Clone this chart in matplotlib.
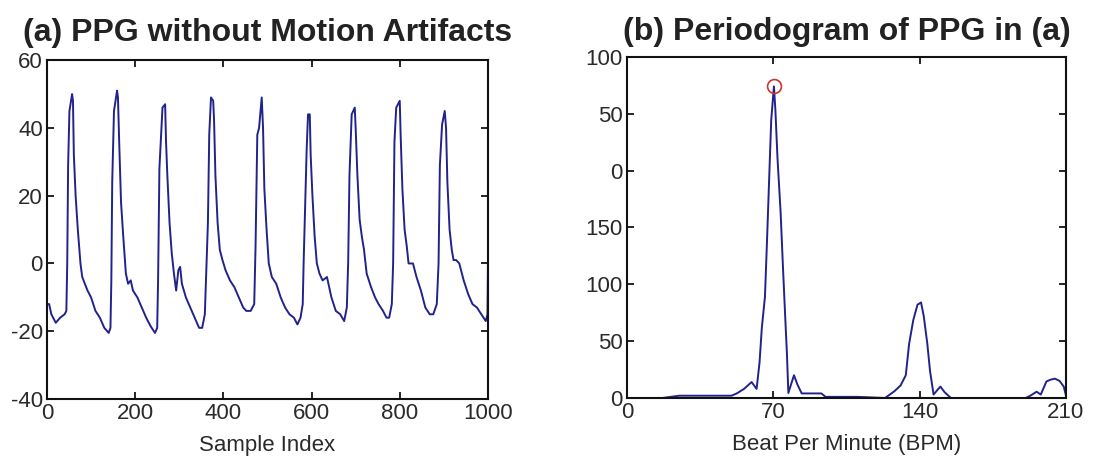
import matplotlib
matplotlib.use('Agg')
import matplotlib.pyplot as plt

plt.rcParams['font.family'] = ['Liberation Sans', 'DejaVu Sans']
plt.rcParams['axes.unicode_minus'] = False

# (a) PPG waveform, key points
sample_idx = [0, 5, 10, 20, 30, 40, 44,
              46, 48, 51, 57, 59, 61, 65, 70, 76, 80, 86, 92, 100, 110, 120, 130, 140, 144,
              146, 148, 152, 159, 161, 164, 168, 173, 179, 184, 190, 195, 205, 215, 225, 235, 245, 250,
              252, 255, 258, 262, 268, 270, 273, 278, 283, 288, 293, 298, 302, 306, 315, 325, 335, 345, 352, 358,
              362, 365, 368, 372, 377, 379, 382, 387, 392, 398, 405, 415, 425, 435, 445, 452, 462, 470,
              473, 477, 481, 487, 490, 493, 498, 503, 510, 520, 530, 540, 550, 560, 568, 575, 580,
              582, 585, 589, 592, 596, 598, 602, 607, 612, 618, 625, 635, 645, 655, 665, 674, 680,
              683, 686, 691, 698, 700, 704, 709, 714, 719, 725, 735, 744, 752, 762, 770, 776, 782,
              785, 788, 792, 800, 802, 806, 811, 816, 820, 825, 830, 838, 848, 858, 868, 876, 884,
              888, 891, 896, 902, 905, 908, 913, 918, 922, 928, 935, 945, 955, 965, 975, 985, 995, 999, 1000]
ppg = [-12, -12, -15, -17.5, -16, -15, -14,
       0, 29, 45, 50, 48, 32, 20, 10, 0, -4, -6, -8, -10, -14, -16, -19, -20.5, -19,
       -5, 24, 45, 51, 49, 35, 18, 8, -3, -6, -5, -8, -10, -13, -16, -18.5, -20.5, -19,
       -5, 28, 36, 46, 47, 36, 26, 12, 3, -3, -8, -2, -1, -6, -10, -13, -16, -19, -19, -15,
       0, 12, 38, 49, 48, 42, 26, 12, 4, 1, -2, -5, -7, -10, -13, -14, -14, -12,
       5, 38, 40, 49, 40, 22, 10, 0, -4, -6, -10, -13, -15, -16, -18, -16, -12,
       0, 15, 34, 44, 44, 32, 20, 8, 0, -3, -5, -4, -10, -14, -15, -17, -13,
       0, 26, 44, 46, 40, 26, 13, 8, 4, -3, -7, -10, -12, -14, -16, -16, -12,
       0, 36, 46, 48, 38, 22, 10, 5, 0, 0, 0, -4, -8, -13, -15, -15, -12,
       0, 29, 41, 45, 40, 24, 10, 4, 1, 1, 0, -5, -9, -12, -13, -15, -17, -15, 0]

# (b) periodogram, key points
bpm = [0, 17, 25, 35, 45, 50, 52.5, 56, 59.6, 62, 63.4, 64.5, 66, 67, 68, 69, 70.3,
       71, 72, 73.5, 74.5, 75.5, 76.5, 77.2, 78.5, 79.9, 81.5, 83.6, 93, 95,
       110, 123.5, 125, 128, 130.9, 133.4, 135, 137, 139, 140.7, 142, 143.7, 145, 146.7,
       148.5, 150, 152, 155, 175, 190.8, 193, 196, 198, 200.7, 202.5, 204.8, 207, 209, 210]
power = [0, 0, 2, 2, 2, 2, 4, 8, 14, 8, 31, 61.6, 89, 139, 192, 244.5, 274,
         253, 211, 163, 120, 79, 39.6, 4.4, 12, 20, 12, 4, 4, 1,
         1, 0, 2, 6, 11, 20, 47.7, 68.6, 82, 84, 72, 47.7, 23.8, 3,
         7, 10, 5, 0, 0, 0, 2, 5.5, 3, 14.5, 16, 17, 15, 10, 2.6]
peak_bpm = 70.3
peak_power = 274
ytick_vals = [0, 50, 100, 150, 200, 250, 300]
ytick_text = ['0', '50', '100', '150', '0', '50', '100']

line_col = '#22228c'
txt_col = '#2a2a2a'

fig = plt.figure(figsize=(10.97, 4.61), dpi=100)
ax1 = fig.add_axes([0.0428, 0.1345, 0.402, 0.735])
ax2 = fig.add_axes([0.5716, 0.1367, 0.400, 0.740])

ax1.plot(sample_idx, ppg, color=line_col, lw=1.4)
ax1.set_xlim(0, 1000)
ax1.set_ylim(-40, 60)
ax1.set_xticks(range(0, 1001, 200))
ax1.set_yticks(range(-40, 61, 20))
ax1.set_xlabel('Sample Index', fontsize=16, color=txt_col, labelpad=8)
ax1.set_title('(a) PPG without Motion Artifacts', fontsize=23, fontweight='bold',
              color='#222222', pad=14)

ax2.plot(bpm, power, color=line_col, lw=1.4)
ax2.plot([peak_bpm], [peak_power], 'o', mfc='none', mec='#cc3333', ms=10, mew=1.2)
ax2.set_xlim(0, 210)
ax2.set_ylim(0, 300)
ax2.set_xticks([0, 70, 140, 210])
ax2.set_yticks(ytick_vals)
ax2.set_yticklabels(ytick_text)
ax2.set_xlabel('Beat Per Minute (BPM)', fontsize=16, color=txt_col, labelpad=8)
ax2.set_title('(b) Periodogram of PPG in (a)', fontsize=23, fontweight='bold',
              color='#222222', pad=12)

for ax in (ax1, ax2):
    ax.tick_params(direction='in', top=True, right=True, length=5, width=1.2,
                   labelsize=16, labelcolor=txt_col, pad=3)
    for s in ax.spines.values():
        s.set_linewidth(1.5)
        s.set_color('#111111')

fig.savefig('out.png', dpi=100)
